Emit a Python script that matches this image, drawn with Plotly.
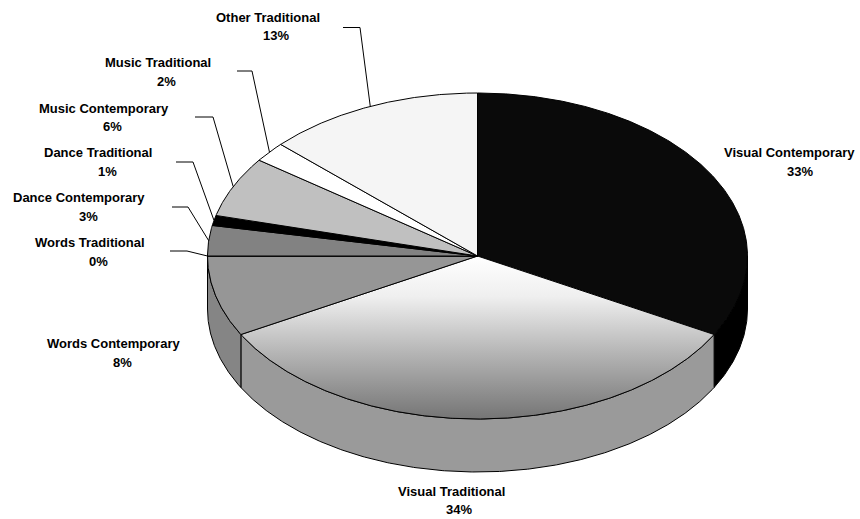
import numpy as np
import plotly.graph_objects as go

# ---- data -------------------------------------------------------------
categories = [
    "Visual Contemporary", "Visual Traditional", "Words Contemporary",
    "Words Traditional", "Dance Contemporary", "Dance Traditional",
    "Music Contemporary", "Music Traditional", "Other Traditional",
]
shares = [33, 34, 8, 0, 3, 1, 6, 2, 13]

# ---- styling -----------------------------------------------------------
top_colors = ["#0a0a0a", "gradient", "#969696", "#969696", "#828282",
              "#000000", "#c0c0c0", "#ffffff", "#f5f5f5"]
side_colors = ["#000000", "#9a9a9a", "#858585", "#858585", "#6e6e6e",
               "#000000", "#a8a8a8", "#e0e0e0", "#dcdcdc"]

# pie geometry in page pixels (x right, y down)
CX, CY, RX, RY, DEPTH = 477.5, 256.0, 270.0, 163.0, 53.0

# label placement: (name centre x, name y, pct centre x, pct y)
label_pos = {
    "Visual Contemporary": (789, 152, 800, 171),
    "Visual Traditional": (451, 491, 459, 509),
    "Words Contemporary": (113, 343, 122, 362),
    "Words Traditional": (90, 242, 98, 261),
    "Dance Contemporary": (79, 197, 88, 216),
    "Dance Traditional": (98, 152, 107, 171),
    "Music Contemporary": (104, 108, 112, 126),
    "Music Traditional": (158, 62, 166, 81),
    "Other Traditional": (268, 17, 276, 35),
}
# leader lines: start point next to label, elbow x
leader_start = {
    "Other Traditional": (343, 27.5, 360),
    "Music Traditional": (237, 71, 252),
    "Music Contemporary": (195, 117, 213),
    "Dance Traditional": (176, 162, 193),
    "Dance Contemporary": (172, 207, 188),
    "Words Traditional": (170, 251, 187),
}


def ellipse_xy(theta_deg, dy=0.0):
    t = np.radians(theta_deg)
    return CX + RX * np.sin(t), CY - RY * np.cos(t) + dy


total = float(sum(shares))
ends = np.cumsum(shares) / total * 360.0
starts = np.concatenate([[0.0], ends[:-1]])

fig = go.Figure()

# outer walls of the slices facing the viewer (90..270 degrees)
for i, cat in enumerate(categories):
    a, b = max(starts[i], 90.0), min(ends[i], 270.0)
    if b <= a:
        continue
    th = np.linspace(a, b, max(int((b - a) * 3), 2))
    tx, ty = ellipse_xy(th)
    bx, by = ellipse_xy(th[::-1], DEPTH)
    fig.add_trace(go.Scatter(
        x=np.concatenate([tx, bx, tx[:1]]), y=np.concatenate([ty, by, ty[:1]]),
        mode="lines", fill="toself", fillcolor=side_colors[i],
        line=dict(color="black", width=1), hoverinfo="skip"))

# top faces
for i, cat in enumerate(categories):
    a, b = starts[i], ends[i]
    th = np.linspace(a, b, max(int((b - a) * 3), 2))
    ax_, ay_ = ellipse_xy(th)
    xs = np.concatenate([[CX], ax_, [CX]])
    ys = np.concatenate([[CY], ay_, [CY]])
    kw = dict(fillcolor=top_colors[i])
    if top_colors[i] == "gradient":
        # light near the centre, darkening toward the front rim
        kw = dict(fillgradient=dict(
            type="vertical",
            colorscale=[[0, "#757575"], [0.4, "#b4b4b4"], [0.75, "#efefef"],
                        [1, "#ffffff"]]))
    fig.add_trace(go.Scatter(
        x=xs, y=ys, mode="lines", fill="toself",
        line=dict(color="black", width=1),
        name=cat, text=f"{cat}: {shares[i]}%", hoverinfo="text", **kw))

# leader lines
for i, cat in enumerate(categories):
    if cat not in leader_start:
        continue
    sx, sy, ex = leader_start[cat]
    mx, my = ellipse_xy((starts[i] + ends[i]) / 2.0)
    fig.add_trace(go.Scatter(
        x=[sx, ex, mx], y=[sy, sy, my], mode="lines",
        line=dict(color="black", width=1), hoverinfo="skip"))

# labels
font = dict(family="Liberation Sans, Arial, sans-serif", size=13, color="black")
for i, cat in enumerate(categories):
    nx, ny, px, py = label_pos[cat]
    fig.add_annotation(x=nx, y=ny, text=f"<b>{cat}</b>", showarrow=False,
                       xanchor="center", yanchor="middle", font=font)
    fig.add_annotation(x=px, y=py, text=f"<b>{shares[i]}%</b>", showarrow=False,
                       xanchor="center", yanchor="middle", font=font)

fig.update_layout(
    width=860, height=519, margin=dict(l=0, r=0, t=0, b=0),
    paper_bgcolor="white", plot_bgcolor="white", showlegend=False,
    xaxis=dict(range=[0, 860], visible=False, fixedrange=True),
    yaxis=dict(range=[519, 0], visible=False, fixedrange=True),
)

fig.write_html("out.html")
